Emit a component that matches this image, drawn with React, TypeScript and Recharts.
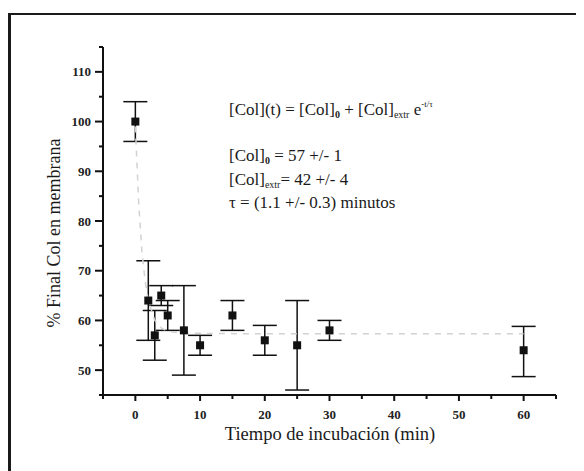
import { ScatterChart, Scatter, XAxis, YAxis, ErrorBar } from 'recharts';

const times = [0, 2, 3, 4, 5, 7.5, 10, 15, 20, 25, 30, 60];
const means = [100, 64, 57, 65, 61, 58, 55, 61, 56, 55, 58, 54];
const lows = [96, 56, 52, 63, 58, 49, 53, 58, 53, 46, 56, 48.7];
const highs = [104, 72, 62, 67, 64, 67, 57, 64, 59, 64, 60, 58.8];

// dashed fit curve
const fitTimes = [0, 0.5, 1, 1.5, 2, 3, 4, 5, 7, 10, 20, 40, 60];
const fitValues = [99, 84, 74, 68, 64, 60, 58.5, 57.8, 57.5, 57.4, 57.3, 57.3, 57.3];

const xTicks = [-5, 0, 5, 10, 15, 20, 25, 30, 35, 40, 45, 50, 55, 60, 65];
const yTicks = [45, 50, 55, 60, 65, 70, 75, 80, 85, 90, 95, 100, 105, 110, 115];

const serif = '"Liberation Serif", "DejaVu Serif", serif';

const points = times.map((t, i) => ({
  t,
  v: means[i],
  err: [means[i] - lows[i], highs[i] - means[i]],
}));

const fit = fitTimes.map((t, i) => ({ t, v: fitValues[i] }));

function XTick(props: any) {
  const { x, y, payload } = props;
  const val = payload.value;
  const major = val % 10 === 0 && val >= 0;
  return (
    <g>
      <line x1={x} x2={x} y1={y} y2={y + (major ? 6 : 4)} stroke="#111" strokeWidth={2} />
      {major && (
        <text x={x} y={y + 24} textAnchor="middle" fontFamily={serif} fontWeight="bold" fontSize={13} fill="#222">
          {val}
        </text>
      )}
    </g>
  );
}

function YTick(props: any) {
  const { x, y, payload } = props;
  const val = payload.value;
  const major = val % 10 === 0 && val >= 50 && val <= 110;
  return (
    <g>
      <line x1={x - (major ? 8 : 4)} x2={x} y1={y} y2={y} stroke="#111" strokeWidth={2} />
      {major && (
        <text x={x - 12} y={y + 4.5} textAnchor="end" fontFamily={serif} fontWeight="bold" fontSize={13} fill="#222">
          {val}
        </text>
      )}
    </g>
  );
}

const SquareDot = (props: any) => {
  const { cx, cy } = props;
  return <rect x={cx - 4} y={cy - 4} width={8} height={8} fill="#111" />;
};

const NoDot = () => <g />;

export default function App() {
  return (
    <div style={{ position: 'relative', width: 584, height: 471 }}>
      <div
        style={{
          position: 'absolute',
          left: 0,
          top: 5,
          width: 569,
          height: 480,
          borderTop: '2px solid #1a1a1a',
          borderLeft: '3px solid #1a1a1a',
          borderRight: '1px solid #ddd',
          boxSizing: 'border-box',
        }}
      />
      <div style={{ position: 'absolute', left: -8, top: -8 }}>
        <ScatterChart width={584} height={471} margin={{ top: 47, right: 28, bottom: 46, left: 0 }}>
          <XAxis
            type="number"
            dataKey="t"
            domain={[-5, 65]}
            ticks={xTicks}
            interval={0}
            tickSize={0}
            tickMargin={0}
            tickLine={false}
            tick={<XTick />}
            height={30}
            axisLine={{ stroke: '#111', strokeWidth: 2 }}
          />
          <YAxis
            type="number"
            dataKey="v"
            domain={[45, 115]}
            ticks={yTicks}
            interval={0}
            tickSize={0}
            tickMargin={0}
            tickLine={false}
            tick={<YTick />}
            width={103}
            axisLine={{ stroke: '#111', strokeWidth: 2 }}
          />
          <Scatter
            data={fit}
            line={{ stroke: '#d2d2d2', strokeWidth: 1.5, strokeDasharray: '6 6' }}
            lineType="joint"
            shape={<NoDot />}
            isAnimationActive={false}
          />
          <Scatter data={points} shape={<SquareDot />} isAnimationActive={false}>
            <ErrorBar dataKey="err" direction="y" width={12} stroke="#111" strokeWidth={1.5} />
          </Scatter>
        </ScatterChart>
      </div>
      <svg
        width={584}
        height={471}
        style={{ position: 'absolute', left: -8, top: -8, pointerEvents: 'none' }}
        fontFamily={serif}
        fill="#1a1a1a"
      >
        <text x={330} y={440} textAnchor="middle" fontSize={18.5}>
          Tiempo de incubación (min)
        </text>
        <text x={54} y={233} textAnchor="middle" fontSize={18} transform="rotate(-90 54 233)" dy={6}>
          % Final Col en membrana
        </text>
        <text x={229} y={115} fontSize={17}>
          [Col](t) = [Col]
          <tspan fontSize={10} dy={3} fontWeight="bold">0</tspan>
          <tspan dy={-3}> + [Col]</tspan>
          <tspan fontSize={10} dy={3}>extr</tspan>
          <tspan dy={-3}> e</tspan>
          <tspan fontSize={9} dy={-8}>-t/τ</tspan>
        </text>
        <text x={229} y={161} fontSize={17}>
          [Col]
          <tspan fontSize={10} dy={3} fontWeight="bold">0</tspan>
          <tspan dy={-3}>  = 57 +/- 1</tspan>
        </text>
        <text x={229} y={185} fontSize={17}>
          [Col]
          <tspan fontSize={10} dy={3}>extr</tspan>
          <tspan dy={-3}>= 42 +/- 4</tspan>
        </text>
        <text x={229} y={208} fontSize={17}>
          τ = (1.1 +/- 0.3) minutos
        </text>
      </svg>
    </div>
  );
}
